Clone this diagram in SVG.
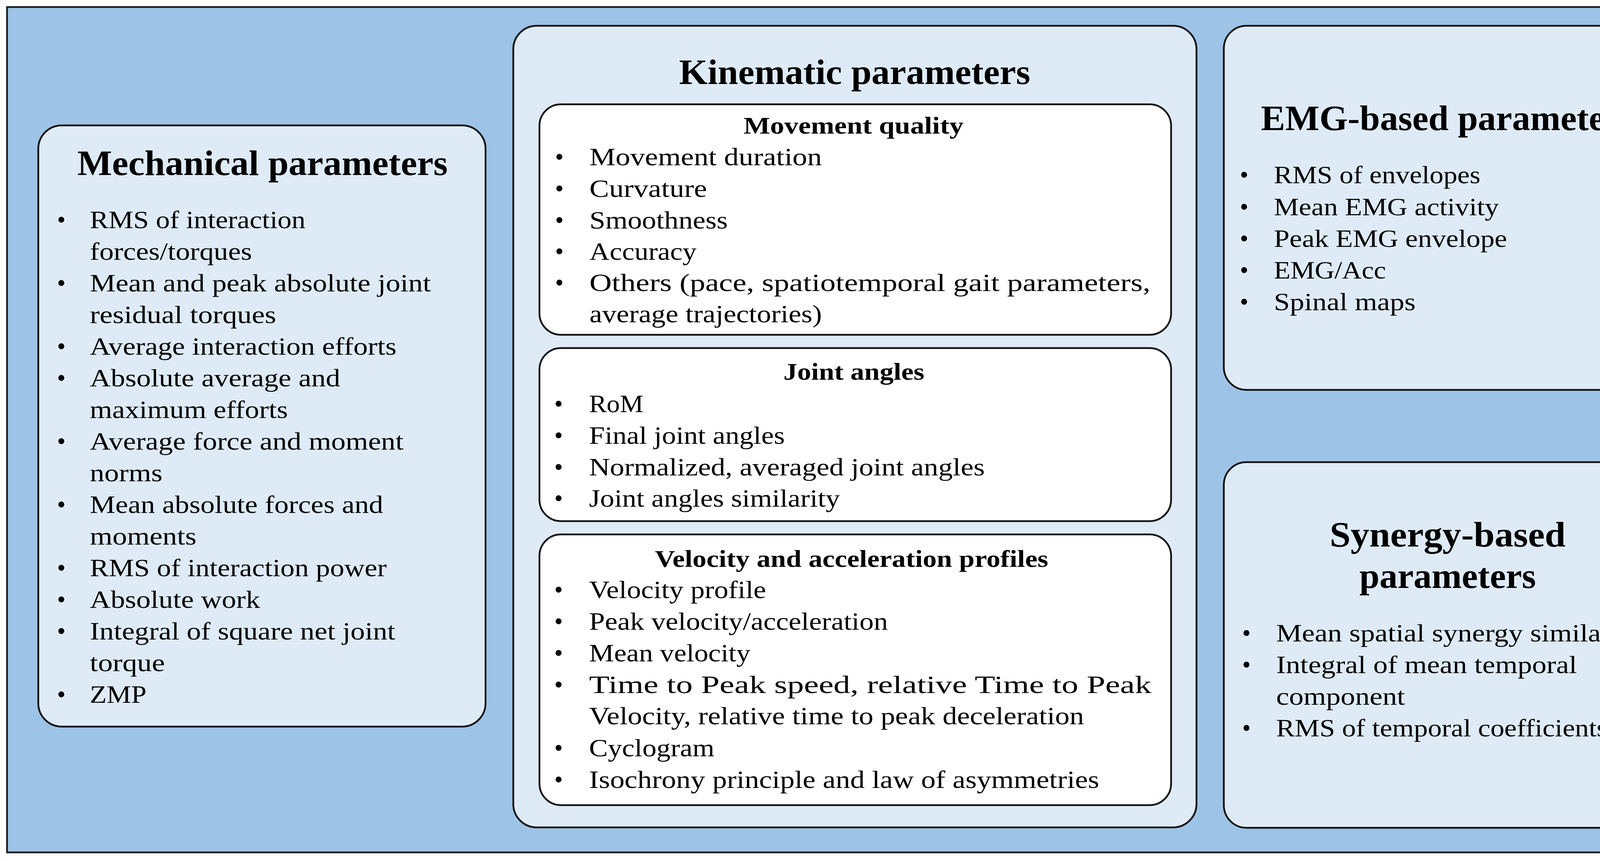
<svg xmlns="http://www.w3.org/2000/svg" width="4368" height="2204" viewBox="0 0 4368 2204">
<style>
.bg{fill:#9DC3E6;stroke:#1a1a1a;stroke-width:4.5}
.box{fill:#DEEBF7;stroke:#111;stroke-width:4.5}
.wbox{fill:#FFFFFF;stroke:#111;stroke-width:4.5}
text{font-family:"Liberation Serif","Times New Roman",serif;fill:#000}
.t{font-size:92px;font-weight:bold;text-anchor:middle}
.st{font-size:62px;font-weight:bold;text-anchor:middle}
.i{font-size:64px}
.b{font-size:64px;text-anchor:middle}
</style>
<rect x="0" y="0" width="4368" height="2204" fill="#FFFFFF"/>
<rect class="bg" x="18" y="18" width="4328" height="2164"/>

<g id="mechanical">
<rect class="box" x="98" y="321" width="1145" height="1539" rx="60" ry="60"/>
<text class="t" x="672" y="448" textLength="948" lengthAdjust="spacingAndGlyphs">Mechanical parameters</text>
<text class="b" x="157" y="584">•</text>
<text class="i" x="230" y="584" textLength="552" lengthAdjust="spacingAndGlyphs">RMS of interaction</text>
<text class="i" x="230" y="665" textLength="415" lengthAdjust="spacingAndGlyphs">forces/torques</text>
<text class="b" x="157" y="746">•</text>
<text class="i" x="230" y="746" textLength="873" lengthAdjust="spacingAndGlyphs">Mean and peak absolute joint</text>
<text class="i" x="230" y="827" textLength="477" lengthAdjust="spacingAndGlyphs">residual torques</text>
<text class="b" x="157" y="908">•</text>
<text class="i" x="230" y="908" textLength="785" lengthAdjust="spacingAndGlyphs">Average interaction efforts</text>
<text class="b" x="157" y="989">•</text>
<text class="i" x="230" y="989" textLength="641" lengthAdjust="spacingAndGlyphs">Absolute average and</text>
<text class="i" x="230" y="1070" textLength="507" lengthAdjust="spacingAndGlyphs">maximum efforts</text>
<text class="b" x="157" y="1151">•</text>
<text class="i" x="230" y="1151" textLength="803" lengthAdjust="spacingAndGlyphs">Average force and moment</text>
<text class="i" x="230" y="1232" textLength="186" lengthAdjust="spacingAndGlyphs">norms</text>
<text class="b" x="157" y="1313">•</text>
<text class="i" x="230" y="1313" textLength="751" lengthAdjust="spacingAndGlyphs">Mean absolute forces and</text>
<text class="i" x="230" y="1394" textLength="273" lengthAdjust="spacingAndGlyphs">moments</text>
<text class="b" x="157" y="1475">•</text>
<text class="i" x="230" y="1475" textLength="760" lengthAdjust="spacingAndGlyphs">RMS of interaction power</text>
<text class="b" x="157" y="1556">•</text>
<text class="i" x="230" y="1556" textLength="436" lengthAdjust="spacingAndGlyphs">Absolute work</text>
<text class="b" x="157" y="1637">•</text>
<text class="i" x="230" y="1637" textLength="782" lengthAdjust="spacingAndGlyphs">Integral of square net joint</text>
<text class="i" x="230" y="1718" textLength="192" lengthAdjust="spacingAndGlyphs">torque</text>
<text class="b" x="157" y="1799">•</text>
<text class="i" x="230" y="1799" textLength="145" lengthAdjust="spacingAndGlyphs">ZMP</text>
</g>

<g id="kinematic">
<rect class="box" x="1314" y="66" width="1749" height="2052" rx="60" ry="60"/>
<text class="t" x="2188" y="215" textLength="899" lengthAdjust="spacingAndGlyphs">Kinematic parameters</text>
</g>

<g id="movement-quality">
<rect class="wbox" x="1381" y="267" width="1617" height="590" rx="55" ry="55"/>
<text class="st" x="2185" y="342" textLength="563" lengthAdjust="spacingAndGlyphs">Movement quality</text>
<text class="b" x="1432" y="423">•</text>
<text class="i" x="1509" y="423" textLength="595" lengthAdjust="spacingAndGlyphs">Movement duration</text>
<text class="b" x="1432" y="504">•</text>
<text class="i" x="1509" y="504" textLength="301" lengthAdjust="spacingAndGlyphs">Curvature</text>
<text class="b" x="1432" y="585">•</text>
<text class="i" x="1509" y="585" textLength="354" lengthAdjust="spacingAndGlyphs">Smoothness</text>
<text class="b" x="1432" y="665">•</text>
<text class="i" x="1509" y="665" textLength="274" lengthAdjust="spacingAndGlyphs">Accuracy</text>
<text class="b" x="1432" y="745">•</text>
<text class="i" x="1509" y="745" textLength="1436" lengthAdjust="spacingAndGlyphs">Others (pace, spatiotemporal gait parameters,</text>
<text class="i" x="1509" y="825" textLength="595" lengthAdjust="spacingAndGlyphs">average trajectories)</text>
</g>

<g id="joint-angles">
<rect class="wbox" x="1381" y="891" width="1617" height="443" rx="55" ry="55"/>
<text class="st" x="2186" y="972" textLength="361" lengthAdjust="spacingAndGlyphs">Joint angles</text>
<text class="b" x="1430" y="1055">•</text>
<text class="i" x="1508" y="1055" textLength="139" lengthAdjust="spacingAndGlyphs">RoM</text>
<text class="b" x="1430" y="1136">•</text>
<text class="i" x="1508" y="1136" textLength="501" lengthAdjust="spacingAndGlyphs">Final joint angles</text>
<text class="b" x="1430" y="1217">•</text>
<text class="i" x="1508" y="1217" textLength="1013" lengthAdjust="spacingAndGlyphs">Normalized, averaged joint angles</text>
<text class="b" x="1430" y="1297">•</text>
<text class="i" x="1508" y="1297" textLength="642" lengthAdjust="spacingAndGlyphs">Joint angles similarity</text>
</g>

<g id="velocity-acceleration">
<rect class="wbox" x="1381" y="1368" width="1617" height="693" rx="55" ry="55"/>
<text class="st" x="2180" y="1451" textLength="1007" lengthAdjust="spacingAndGlyphs">Velocity and acceleration profiles</text>
<text class="b" x="1430" y="1531">•</text>
<text class="i" x="1508" y="1531" textLength="453" lengthAdjust="spacingAndGlyphs">Velocity profile</text>
<text class="b" x="1430" y="1612">•</text>
<text class="i" x="1508" y="1612" textLength="765" lengthAdjust="spacingAndGlyphs">Peak velocity/acceleration</text>
<text class="b" x="1430" y="1693">•</text>
<text class="i" x="1508" y="1693" textLength="413" lengthAdjust="spacingAndGlyphs">Mean velocity</text>
<text class="b" x="1430" y="1774">•</text>
<text class="i" x="1508" y="1774" textLength="1440" lengthAdjust="spacingAndGlyphs">Time to Peak speed, relative Time to Peak</text>
<text class="i" x="1508" y="1854" textLength="1267" lengthAdjust="spacingAndGlyphs">Velocity, relative time to peak deceleration</text>
<text class="b" x="1430" y="1936">•</text>
<text class="i" x="1508" y="1936" textLength="321" lengthAdjust="spacingAndGlyphs">Cyclogram</text>
<text class="b" x="1430" y="2017">•</text>
<text class="i" x="1508" y="2017" textLength="1306" lengthAdjust="spacingAndGlyphs">Isochrony principle and law of asymmetries</text>
</g>

<g id="emg">
<rect class="box" x="3133" y="66" width="1145" height="932" rx="58" ry="58"/>
<text class="t" x="3707" y="333" textLength="958" lengthAdjust="spacingAndGlyphs">EMG-based parameters</text>
<text class="b" x="3185" y="469">•</text>
<text class="i" x="3261" y="469" textLength="529" lengthAdjust="spacingAndGlyphs">RMS of envelopes</text>
<text class="b" x="3185" y="551">•</text>
<text class="i" x="3261" y="551" textLength="576" lengthAdjust="spacingAndGlyphs">Mean EMG activity</text>
<text class="b" x="3185" y="632">•</text>
<text class="i" x="3261" y="632" textLength="597" lengthAdjust="spacingAndGlyphs">Peak EMG envelope</text>
<text class="b" x="3185" y="713">•</text>
<text class="i" x="3261" y="713" textLength="287" lengthAdjust="spacingAndGlyphs">EMG/Acc</text>
<text class="b" x="3185" y="794">•</text>
<text class="i" x="3261" y="794" textLength="363" lengthAdjust="spacingAndGlyphs">Spinal maps</text>
</g>

<g id="synergy">
<rect class="box" x="3133" y="1183" width="1145" height="936" rx="58" ry="58"/>
<text class="t" x="3706" y="1399" textLength="604" lengthAdjust="spacingAndGlyphs">Synergy-based</text>
<text class="t" x="3706" y="1505" textLength="452" lengthAdjust="spacingAndGlyphs">parameters</text>
<text class="b" x="3191" y="1642">•</text>
<text class="i" x="3267" y="1642" textLength="934" lengthAdjust="spacingAndGlyphs">Mean spatial synergy similarity</text>
<text class="b" x="3191" y="1723">•</text>
<text class="i" x="3267" y="1723" textLength="770" lengthAdjust="spacingAndGlyphs">Integral of mean temporal</text>
<text class="i" x="3267" y="1804" textLength="330" lengthAdjust="spacingAndGlyphs">component</text>
<text class="b" x="3191" y="1885">•</text>
<text class="i" x="3267" y="1885" textLength="848" lengthAdjust="spacingAndGlyphs">RMS of temporal coefficients</text>
</g>

<g id="connectors"></g>
</svg>
